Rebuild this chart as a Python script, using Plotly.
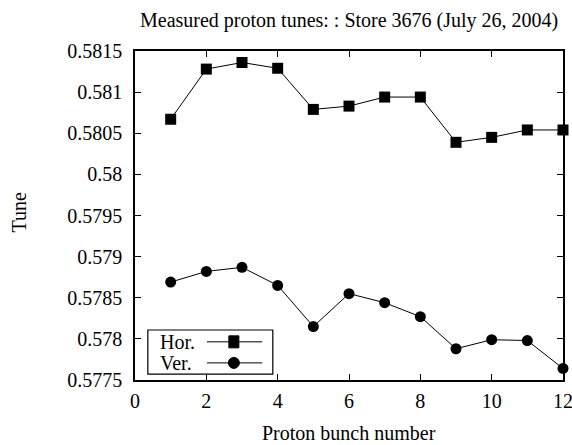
import plotly.graph_objects as go

# Measured tunes per proton bunch
bunches = list(range(1, 13))
hor_tune = [0.58067, 0.58128, 0.58136, 0.58129, 0.58079, 0.58083,
            0.58094, 0.58094, 0.58039, 0.58045, 0.58054, 0.58054]
ver_tune = [0.57869, 0.57882, 0.57887, 0.57865, 0.57815, 0.57855,
            0.57844, 0.57827, 0.57788, 0.57799, 0.57798, 0.57764]

y_ticks = [0.5775, 0.578, 0.5785, 0.579, 0.5795, 0.58, 0.5805, 0.581, 0.5815]
y_tick_text = ["0.5775", "0.578", "0.5785", "0.579", "0.5795", "0.58", "0.5805", "0.581", "0.5815"]
x_ticks = [0, 2, 4, 6, 8, 10, 12]

FONT = "Liberation Serif"
TXT = dict(family=FONT, size=20, color="black")

fig = go.Figure()
fig.add_trace(go.Scatter(
    x=bunches, y=hor_tune, mode="lines+markers", name="Hor.",
    line=dict(color="black", width=1),
    marker=dict(symbol="square", size=11, color="black"),
    cliponaxis=False, showlegend=False))
fig.add_trace(go.Scatter(
    x=bunches, y=ver_tune, mode="lines+markers", name="Ver.",
    line=dict(color="black", width=1),
    marker=dict(symbol="circle", size=11, color="black"),
    cliponaxis=False, showlegend=False))

axis_common = dict(showgrid=False, zeroline=False, showline=True, linecolor="black",
                   linewidth=1.5, mirror="allticks", ticks="inside", ticklen=6,
                   tickcolor="black", tickwidth=1, automargin=False, tickfont=TXT,
                   ticklabeloverflow="allow")

fig.update_xaxes(range=[0, 12], tickvals=x_ticks, ticklabelstandoff=2, **axis_common)
fig.update_yaxes(range=[0.5775, 0.5815], tickvals=y_ticks, ticktext=y_tick_text,
                 ticklabelstandoff=7, **axis_common)

# Hand-built legend box: text on the left, sample line and marker on the right
shapes = [dict(type="rect", xref="paper", yref="paper", x0=0.03, x1=0.322, y0=0.018, y1=0.152,
               line=dict(color="black", width=1.2), fillcolor="white", layer="above")]
annotations = []
rows = [("Hor.", "square", 0.116), ("Ver.", "circle", 0.052)]
for label, sym, yp in rows:
    shapes.append(dict(type="line", xref="paper", yref="paper", x0=0.168, x1=0.297, y0=yp, y1=yp,
                       line=dict(color="black", width=1), layer="above"))
    kind = "rect" if sym == "square" else "circle"
    hx, hy = (5, 6) if sym == "square" else (5.5, 5.5)
    shapes.append(dict(type=kind, xref="paper", yref="paper", xsizemode="pixel", ysizemode="pixel",
                       xanchor=0.231, yanchor=yp, x0=-hx, x1=hx, y0=-hy, y1=hy,
                       fillcolor="black", line=dict(color="black", width=1), layer="above"))
    annotations.append(dict(text=label, xref="paper", yref="paper", x=0.054, y=yp,
                            xanchor="left", yanchor="middle", showarrow=False, font=TXT))

annotations += [
    dict(text="Measured proton tunes: : Store 3676 (July 26, 2004)",
         xref="paper", yref="paper", x=0.5, y=1.0, yshift=31,
         xanchor="center", yanchor="middle", showarrow=False, font=TXT),
    dict(text="Proton bunch number", xref="paper", yref="paper", x=0.5, y=0.0, yshift=-53,
         xanchor="center", yanchor="middle", showarrow=False, font=TXT),
    dict(text="Tune", xref="paper", yref="paper", x=0.0, y=0.5, xshift=-117, yshift=3,
         xanchor="center", yanchor="middle", textangle=-90, showarrow=False, font=TXT),
]

fig.update_layout(width=572, height=445, margin=dict(l=135, r=9, t=51, b=65),
                  plot_bgcolor="white", paper_bgcolor="white",
                  shapes=shapes, annotations=annotations)

fig.write_html("out.html")
